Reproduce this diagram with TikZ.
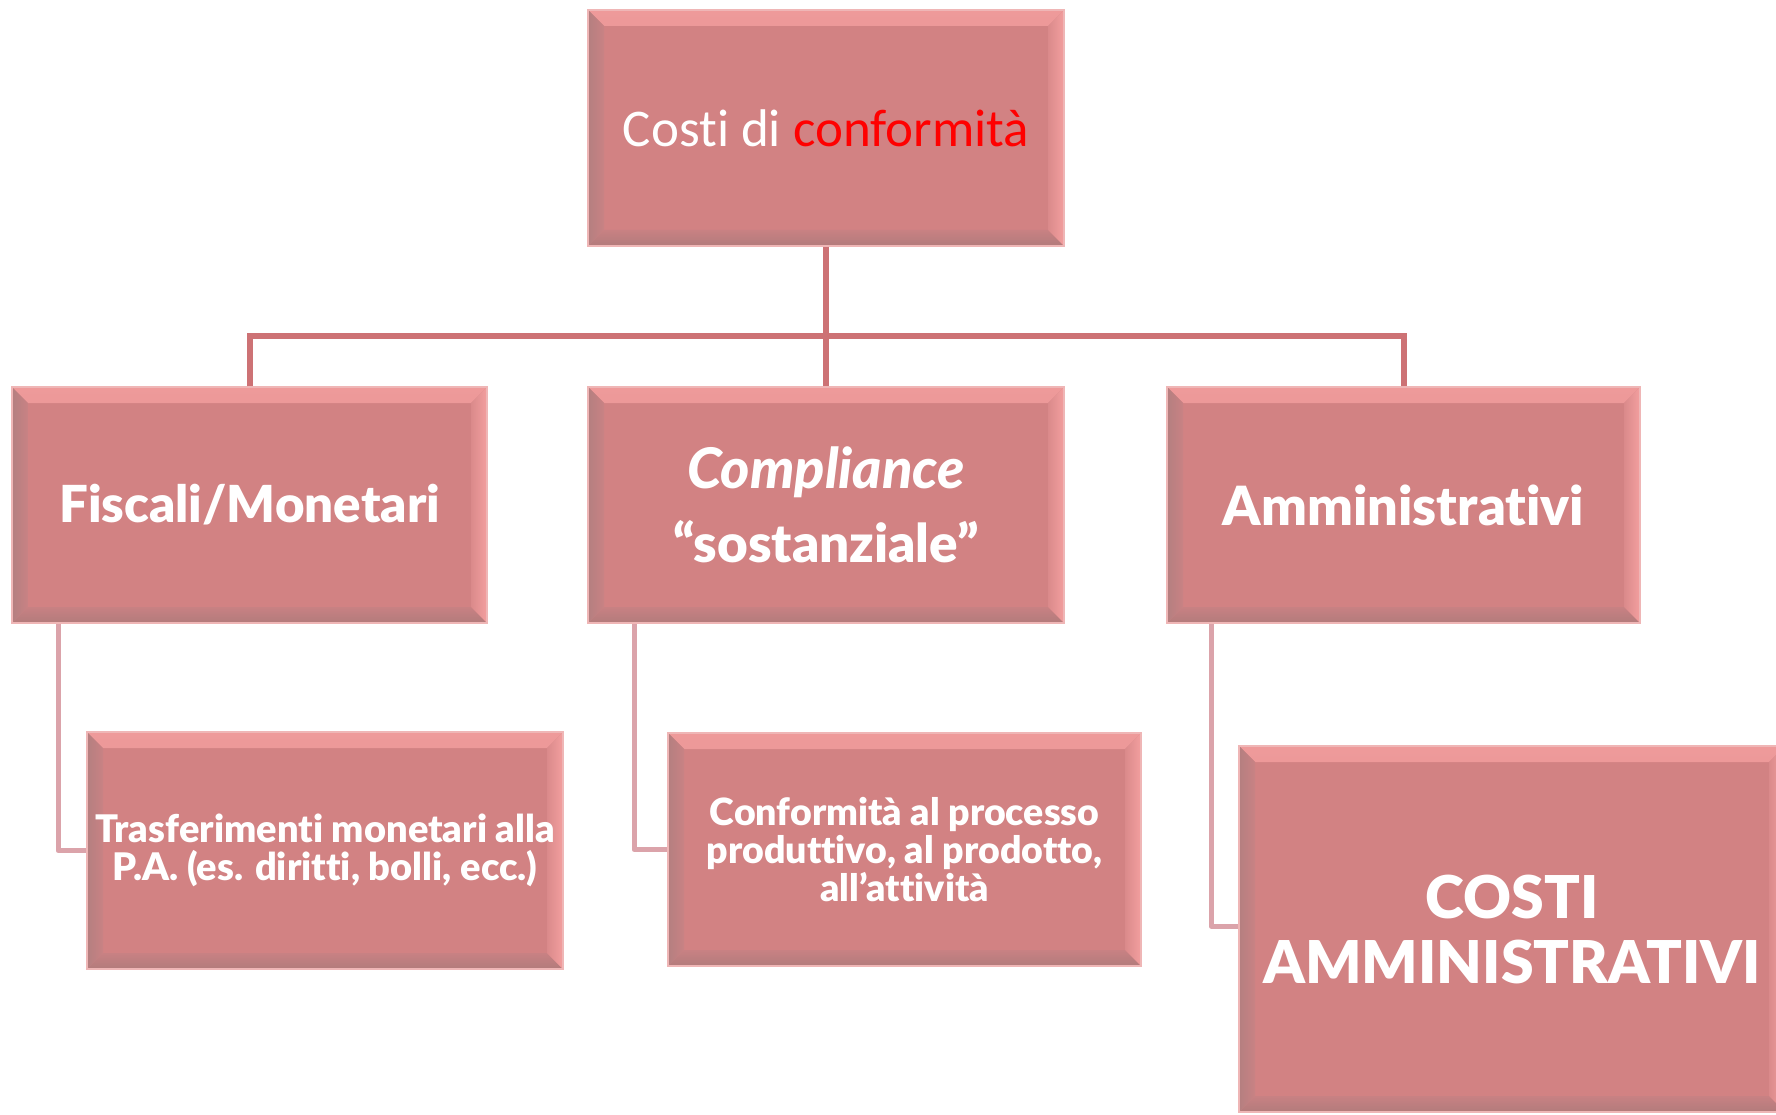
\documentclass[tikz,border=0pt]{standalone}
\usepackage{fontspec}
\setmainfont{Lato}[Ligatures=NoCommon]
\newfontfamily\heavy{Lato Black}[Ligatures=NoCommon]
\newfontfamily\calib{Carlito}[Ligatures=NoCommon]
\definecolor{boxfill}{HTML}{D28283}
\definecolor{boxedge}{HTML}{EFB6B6}
\definecolor{mainline}{HTML}{CD7275}
\definecolor{brkline}{HTML}{DBA3AA}
\definecolor{confred}{HTML}{FF0000}
\definecolor{bevtopA}{HTML}{EE9A9A}
\definecolor{bevtopB}{HTML}{D68788}
\definecolor{bevbotA}{HTML}{B27B7B}
\definecolor{bevbotB}{HTML}{C88183}
\definecolor{bevleftA}{HTML}{B47F80}
\definecolor{bevleftB}{HTML}{C98284}
\definecolor{bevrightA}{HTML}{F39F9F}
\definecolor{bevrightB}{HTML}{DA8A8B}
\tikzset{
  bevbox/.style={rectangle, draw=boxedge, line width=2pt, fill=boxfill, inner sep=0pt,
    text=white, align=center,
    path picture={
      \shade[top color=bevtopA, bottom color=bevtopB] (path picture bounding box.north west) -- (path picture bounding box.north east)
        -- ([xshift=-16pt,yshift=-16pt]path picture bounding box.north east)
        -- ([xshift=16pt,yshift=-16pt]path picture bounding box.north west) -- cycle;
      \shade[top color=bevbotB, bottom color=bevbotA] (path picture bounding box.south west) -- (path picture bounding box.south east)
        -- ([xshift=-16pt,yshift=16pt]path picture bounding box.south east)
        -- ([xshift=16pt,yshift=16pt]path picture bounding box.south west) -- cycle;
      \shade[left color=bevleftA, right color=bevleftB] (path picture bounding box.north west) -- (path picture bounding box.south west)
        -- ([xshift=16pt,yshift=16pt]path picture bounding box.south west)
        -- ([xshift=16pt,yshift=-16pt]path picture bounding box.north west) -- cycle;
      \shade[left color=bevrightB, right color=bevrightA] (path picture bounding box.north east) -- (path picture bounding box.south east)
        -- ([xshift=-16pt,yshift=16pt]path picture bounding box.south east)
        -- ([xshift=-16pt,yshift=-16pt]path picture bounding box.north east) -- cycle;
    }},
  mainconn/.style={draw=mainline, line width=6pt},
  brkconn/.style={draw=brkline, line width=5pt, line join=round},
}
\begin{document}
\begin{tikzpicture}[x=1pt,y=-1pt]
\clip (0,0) rectangle (1776,1115);
\fill[white] (0,0) rectangle (1776,1115);

\coordinate (hub) at (826,336);
\node[bevbox, minimum width=476pt, minimum height=236pt, font=\calib\fontsize{53}{60}\selectfont] (top) at (826,128)
  {Costi di {\color{confred}conformità}};
\node[bevbox, font=\heavy\fontsize{51}{60}\selectfont, minimum width=475pt, minimum height=236pt] (fis) at (249.5,505)
  {Fiscali/Monetari};
\node[bevbox, font=\heavy\fontsize{53}{74}\selectfont, minimum width=476pt, minimum height=236pt] (comp) at (826,505)
  {{\fontsize{56}{74}\selectfont\itshape Compliance}\\“sostanziale”};
\node[bevbox, font=\heavy\fontsize{54}{60}\selectfont, minimum width=473pt, minimum height=236pt] (amm) at (1403.5,505)
  {Amministrativi};
\node[bevbox, font=\heavy\fontsize{38}{38.5}\selectfont, minimum width=476pt, minimum height=237pt] (tras) at (325,850.5)
  {Trasferimenti monetari alla\\P.A. (es. diritti, bolli, ecc.)};
\node[bevbox, font=\heavy\fontsize{37.5}{38}\selectfont, minimum width=473pt, minimum height=233pt] (conf) at (904.5,849.5)
  {Conformità al processo\\produttivo, al prodotto,\\all’attività};
\node[bevbox, font=\heavy\fontsize{59}{65}\selectfont, minimum width=546pt, minimum height=366pt] (cab) at (1512,929)
  {COSTI\\AMMINISTRATIVI};

\draw[mainconn] (top.south) -- (hub);
\draw[mainconn] (fis.north) |- (hub) -| (amm.north);
\draw[mainconn] (hub) -- (comp.north);

\draw[brkconn] ([xshift=47pt]fis.south west) |- (tras.west);
\draw[brkconn] ([xshift=47pt]comp.south west) |- (conf.west);
\draw[brkconn] ([xshift=45pt]amm.south west) |- ([yshift=3pt]cab.west);
\end{tikzpicture}
\end{document}
